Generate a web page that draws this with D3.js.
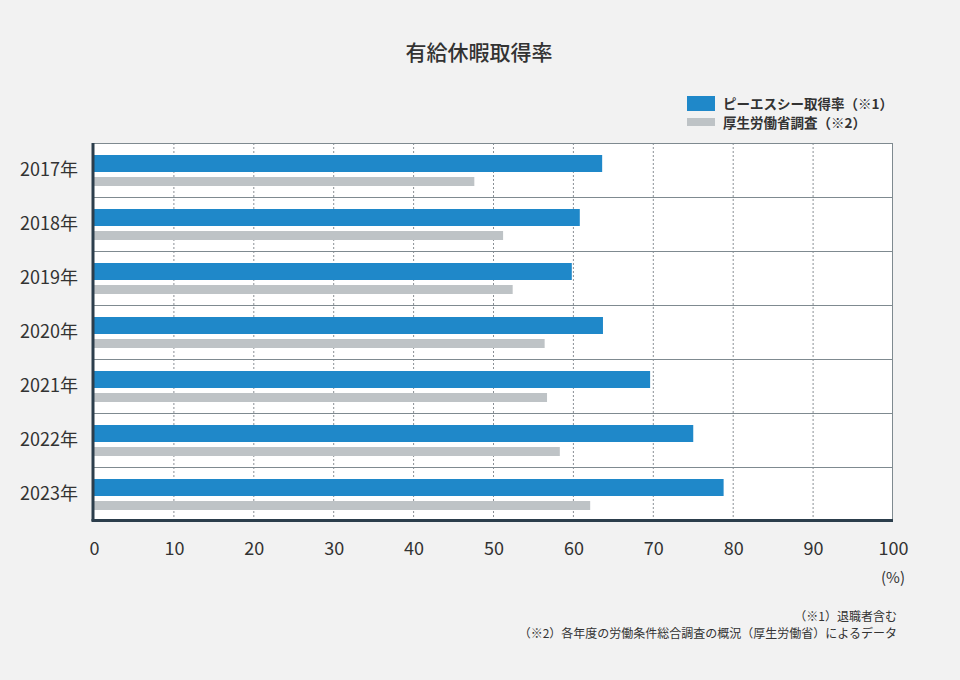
<!DOCTYPE html>
<html>
<head>
<meta charset="utf-8">
<style>
  body { margin: 0; background: #f2f2f2; }
  svg text { font-family: "Noto Sans CJK JP", "Noto Sans", sans-serif; fill: #333; }
</style>
</head>
<body>
<svg width="960" height="680"></svg>
<script src="https://d3js.org/d3.v7.min.js"></script>
<script>
var years = ["2017年", "2018年", "2019年", "2020年", "2021年", "2022年", "2023年"];
var pscRate = [63.6, 60.8, 59.8, 63.7, 69.6, 75.0, 78.8];
var mhlwRate = [47.6, 51.2, 52.4, 56.4, 56.7, 58.3, 62.1];
var xTicks = [0, 10, 20, 30, 40, 50, 60, 70, 80, 90, 100];
var seriesNames = ["ピーエスシー取得率（※1）", "厚生労働省調査（※2）"];
var colors = ["#1f88c9", "#bec3c6"];

var svg = d3.select("svg");
var margin = {top: 143, left: 94, right: 67, bottom: 159};
var width = 960 - margin.left - margin.right,
    height = 680 - margin.top - margin.bottom;

svg.append("rect").attr("width", 960).attr("height", 680).attr("fill", "#f2f2f2");

svg.append("text")
  .attr("x", 479).attr("y", 60)
  .attr("text-anchor", "middle")
  .style("font-size", "21px").style("font-weight", "500")
  .attr("fill", "#222")
  .text("有給休暇取得率");

var g = svg.append("g").attr("transform", "translate(" + margin.left + "," + margin.top + ")");

var x = d3.scaleLinear().domain([0, 100]).range([0, width]);
var y = d3.scaleBand().domain(years).range([0, height]);

g.append("rect").attr("width", width).attr("height", height).attr("fill", "#fff");

// vertical dotted grid
g.append("g").selectAll("line")
  .data(xTicks.slice(1, -1))
  .enter().append("line")
  .attr("x1", d => x(d)).attr("x2", d => x(d))
  .attr("y1", 0).attr("y2", height)
  .attr("stroke", "#8a9096").attr("stroke-width", 1)
  .attr("stroke-dasharray", "2,2");

// band separators
g.append("g").selectAll("line")
  .data(years)
  .enter().append("line")
  .attr("x1", 0).attr("x2", width)
  .attr("y1", d => Math.round(y(d)) + 0.5).attr("y2", d => Math.round(y(d)) + 0.5)
  .attr("stroke", "#7f8a90").attr("stroke-width", 1);

g.append("line")
  .attr("x1", width - 0.5).attr("x2", width - 0.5)
  .attr("y1", 0).attr("y2", height)
  .attr("stroke", "#7f8a90");

var rows = g.append("g").selectAll("g")
  .data(years)
  .enter().append("g")
  .attr("transform", d => "translate(0," + y(d) + ")");

rows.append("rect")
  .attr("x", 0).attr("y", 12)
  .attr("width", (d, i) => x(pscRate[i]))
  .attr("height", 17)
  .attr("fill", colors[0]);

rows.append("rect")
  .attr("x", 0).attr("y", 34)
  .attr("width", (d, i) => x(mhlwRate[i]))
  .attr("height", 9)
  .attr("fill", colors[1]);

// axes lines
g.append("line")
  .attr("x1", -1).attr("x2", -1).attr("y1", 0).attr("y2", height)
  .attr("stroke", "#2c3e4c").attr("stroke-width", 3);
g.append("line")
  .attr("x1", -2.5).attr("x2", width).attr("y1", height - 0.5).attr("y2", height - 0.5)
  .attr("stroke", "#2c3e4c").attr("stroke-width", 3);

// y labels
g.append("g")
  .call(d3.axisLeft(y).tickSize(0).tickPadding(16))
  .call(a => a.select(".domain").remove())
  .selectAll("text")
  .style("font-size", "18px").attr("fill", "#2c3e4c");

// x labels
g.append("g")
  .attr("transform", "translate(0," + height + ")")
  .call(d3.axisBottom(x).tickValues(xTicks).tickSize(0).tickPadding(21))
  .call(a => a.select(".domain").remove())
  .selectAll("text")
  .style("font-size", "18px").attr("fill", "#2c3e4c");

g.append("text")
  .attr("x", width).attr("y", height + 62)
  .attr("text-anchor", "middle")
  .style("font-size", "15px").attr("fill", "#2c3e4c")
  .text("(%)");

// legend
var legend = svg.append("g").selectAll("g")
  .data(seriesNames)
  .enter().append("g")
  .attr("transform", (d, i) => "translate(687," + (96 + i * 19) + ")");

legend.append("rect")
  .attr("y", (d, i) => i === 0 ? 0 : 3)
  .attr("width", 28)
  .attr("height", (d, i) => i === 0 ? 15 : 8)
  .attr("fill", (d, i) => colors[i]);

legend.append("text")
  .attr("x", 36).attr("y", 8)
  .attr("dy", "0.35em")
  .style("font-size", "13.5px").style("font-weight", "bold")
  .attr("fill", "#222")
  .text(d => d);

// footnotes
var notes = ["（※1）退職者含む", "（※2）各年度の労働条件総合調査の概況（厚生労働省）によるデータ"];
svg.append("g").selectAll("text")
  .data(notes)
  .enter().append("text")
  .attr("x", 897).attr("y", (d, i) => 621 + i * 17)
  .attr("text-anchor", "end")
  .style("font-size", "12px").attr("fill", "#555")
  .text(d => d);
</script>
</body>
</html>
